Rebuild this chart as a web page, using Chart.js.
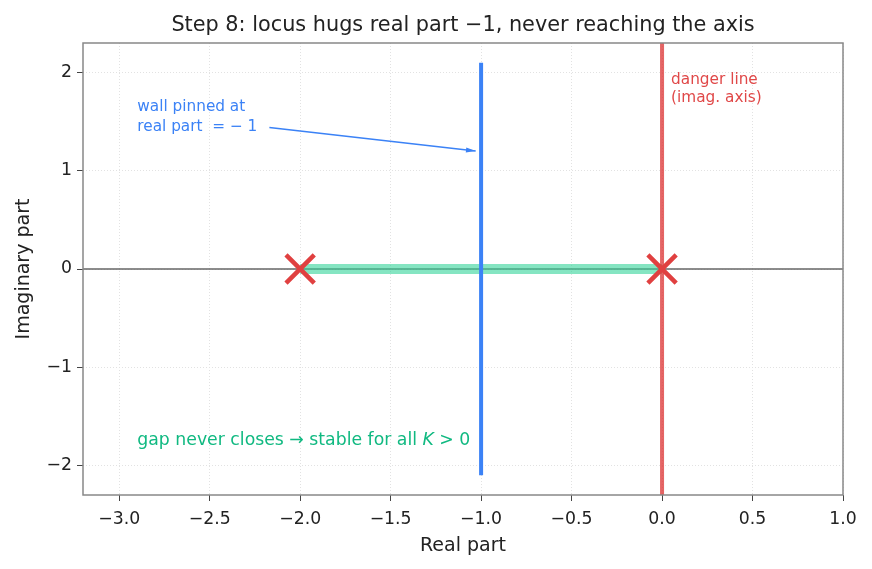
<!DOCTYPE html>
<html>
<head>
<meta charset="utf-8">
<script src="https://cdn.jsdelivr.net/npm/chart.js@4.4.1/dist/chart.umd.min.js"></script>
<style>
  html, body { margin: 0; padding: 0; background: #fff; }
  #wrap { width: 872px; height: 569px; }
</style>
</head>
<body>
<div id="wrap"><canvas id="c" width="872" height="569"></canvas></div>
<script>
'use strict';

// data
const xTicks = [-3.0, -2.5, -2.0, -1.5, -1.0, -0.5, 0.0, 0.5, 1.0];
const yTicks = [-2, -1, 0, 1, 2];
const poles = [{ x: -2, y: 0 }, { x: 0, y: 0 }];
const locus = [{ x: -2, y: 0 }, { x: 0, y: 0 }];
const wall = [{ x: -1, y: -2.1 }, { x: -1, y: 2.1 }];
const dangerLine = [{ x: 0, y: -2.3 }, { x: 0, y: 2.3 }];
const realAxis = [{ x: -3.2, y: 0 }, { x: 1.0, y: 0 }];

const FONT = "'DejaVu Sans', sans-serif";
const minus = v => String(v).replace('-', '\u2212');

const overlay = {
    id: 'overlay',
    afterDraw(chart) {
        const { ctx, chartArea: a, scales: { x, y } } = chart;
        ctx.save();
        // frame
        ctx.strokeStyle = '#888';
        ctx.lineWidth = 1.5;
        ctx.strokeRect(a.left, a.top, a.right - a.left, a.bottom - a.top);

        // title + axis titles
        ctx.fillStyle = '#222';
        ctx.textAlign = 'center';
        ctx.textBaseline = 'middle';
        ctx.font = `20.8px ${FONT}`;
        ctx.fillText('Step 8: locus hugs real part \u22121, never reaching the axis', (a.left + a.right) / 2, 26);
        ctx.font = `19px ${FONT}`;
        ctx.fillText('Real part', (a.left + a.right) / 2, 546);
        ctx.save();
        ctx.translate(24, (a.top + a.bottom) / 2);
        ctx.rotate(-Math.PI / 2);
        ctx.fillText('Imaginary part', 0, 0);
        ctx.restore();

        // wall note + arrow
        ctx.textAlign = 'left';
        ctx.fillStyle = '#3b82f6';
        ctx.font = `15.3px ${FONT}`;
        ctx.fillText('wall pinned at', x.getPixelForValue(-2.9), y.getPixelForValue(1.645));
        ctx.fillText('real part  = \u2212 1', x.getPixelForValue(-2.9), y.getPixelForValue(1.44));
        const x0 = x.getPixelForValue(-2.17), y0 = y.getPixelForValue(1.44);
        const x1 = x.getPixelForValue(-1.03), y1 = y.getPixelForValue(1.2);
        ctx.strokeStyle = '#3b82f6';
        ctx.lineWidth = 1.5;
        ctx.beginPath(); ctx.moveTo(x0, y0); ctx.lineTo(x1, y1); ctx.stroke();
        const ang = Math.atan2(y1 - y0, x1 - x0);
        ctx.beginPath();
        ctx.moveTo(x1, y1);
        ctx.lineTo(x1 - 10 * Math.cos(ang - 0.25), y1 - 10 * Math.sin(ang - 0.25));
        ctx.lineTo(x1 - 10 * Math.cos(ang + 0.25), y1 - 10 * Math.sin(ang + 0.25));
        ctx.closePath(); ctx.fill();

        // danger note
        ctx.fillStyle = '#e04848';
        ctx.fillText('danger line', x.getPixelForValue(0.05), y.getPixelForValue(1.92));
        ctx.fillText('(imag. axis)', x.getPixelForValue(0.05), y.getPixelForValue(1.74));

        // gap note
        ctx.fillStyle = '#10b981';
        ctx.font = `17.3px ${FONT}`;
        let gx = x.getPixelForValue(-2.9);
        const gy = y.getPixelForValue(-1.75);
        const s1 = 'gap never closes \u2192 stable for all ';
        ctx.fillText(s1, gx, gy);
        gx += ctx.measureText(s1).width;
        ctx.font = `italic 17.3px ${FONT}`;
        ctx.fillText('K', gx, gy);
        gx += ctx.measureText('K').width;
        ctx.font = `17.3px ${FONT}`;
        ctx.fillText(' > 0', gx, gy);
        ctx.restore();
    }
};

const line = (data, color, width, order) => ({
    data, showLine: true, borderColor: color, borderWidth: width,
    pointRadius: 0, fill: false, order
});

new Chart(document.getElementById('c'), {
    type: 'scatter',
    data: {
        datasets: [
            {
                data: poles, pointStyle: 'crossRot', pointRadius: 20, pointHoverRadius: 20,
                borderColor: '#e04040', pointBorderWidth: 4.5, borderWidth: 4.5, showLine: false, order: 0
            },
            line(dangerLine, 'rgba(220,50,50,0.75)', 4, 1),
            line(wall, '#3b82f6', 4, 2),
            line(locus, 'rgba(52,211,153,0.6)', 10, 3),
            line(realAxis, '#666', 1.5, 4),
        ]
    },
    options: {
        responsive: false,
        animation: false,
        events: [],
        layout: { padding: { top: 43, right: 29, left: 0, bottom: 0 } },
        plugins: { legend: { display: false }, title: { display: false }, tooltip: { enabled: false } },
        scales: {
            x: {
                type: 'linear', min: -3.2, max: 1.0,
                afterBuildTicks: s => { s.ticks = xTicks.map(v => ({ value: v })); },
                afterFit: s => { s.height = 74; },
                grid: { color: '#e2e2e2', tickColor: '#444', tickLength: 6, tickBorderDash: [] },
                border: { display: false, dash: [1, 2] },
                ticks: {
                    color: '#222', font: { family: FONT, size: 17.3 }, padding: 8,
                    callback: v => minus(v.toFixed(1))
                }
            },
            y: {
                type: 'linear', min: -2.3, max: 2.3,
                afterBuildTicks: s => { s.ticks = yTicks.map(v => ({ value: v })); },
                afterFit: s => { s.width = 83; },
                grid: { color: '#e2e2e2', tickColor: '#444', tickLength: 6, tickBorderDash: [] },
                border: { display: false, dash: [1, 2] },
                ticks: {
                    color: '#222', font: { family: FONT, size: 17.3 }, padding: 5,
                    callback: v => minus(v)
                }
            }
        }
    },
    plugins: [overlay]
});
</script>
</body>
</html>
